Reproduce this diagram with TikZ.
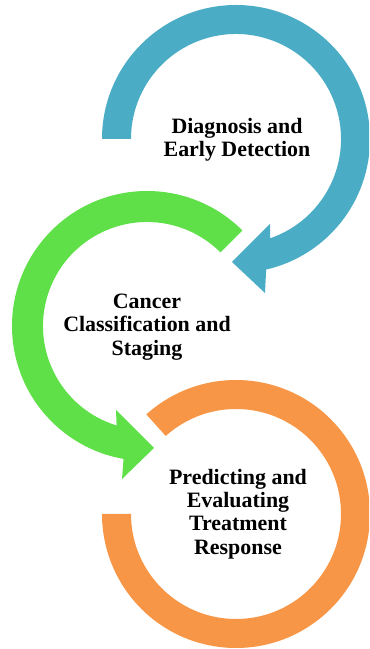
\documentclass[tikz,border=0pt]{standalone}
\usepackage{fontspec}
\setmainfont{Liberation Serif}
\usetikzlibrary{calc}
\definecolor{cblue}{HTML}{4BACC6}
\definecolor{cgreen}{HTML}{5FE049}
\definecolor{corange}{HTML}{F79646}
\tikzset{
  ring/.style={draw=none},
  lbl/.style={align=center, font=\fontsize{22}{23.5}\selectfont\bfseries, text=black, inner sep=0pt}
}
\begin{document}
\begin{tikzpicture}[x=1bp,y=1bp]
\useasboundingbox (0,0) rectangle (369,649);
\clip (0,0) rectangle (369,649);
\coordinate (B) at (236,510);
\coordinate (G) at (147,323);
\coordinate (O) at (236,135);
% blue circular arrow
\fill[cblue] ($(B)+(180:134)$) arc[start angle=180, end angle=-77, radius=134]
  -- (265,356) -- (232,387) -- (270,425)
  -- ($(B)+(-71:105)$) arc[start angle=-71, end angle=180, radius=105] -- cycle;
% green circular arrow
\fill[cgreen] ($(G)+(45:135)$) arc[start angle=45, end angle=260, radius=135]
  -- (122,170) -- (154,201) -- (116,239)
  -- ($(G)+(253:104)$) arc[start angle=253, end angle=45, radius=104] -- cycle;
% orange circular arc
\fill[corange] ($(O)+(132:134)$) arc[start angle=132, end angle=-180, radius=134]
  -- ($(O)+(180:105)$) arc[start angle=-180, end angle=132, radius=105] -- cycle;
\node[lbl] (t1) at (237,509) {Diagnosis and\\Early Detection};
\node[lbl] (t2) at (147,322) {Cancer\\Classification and\\Staging};
\node[lbl] (t3) at (238,135) {Predicting and\\Evaluating\\Treatment\\Response};
\end{tikzpicture}
\end{document}
